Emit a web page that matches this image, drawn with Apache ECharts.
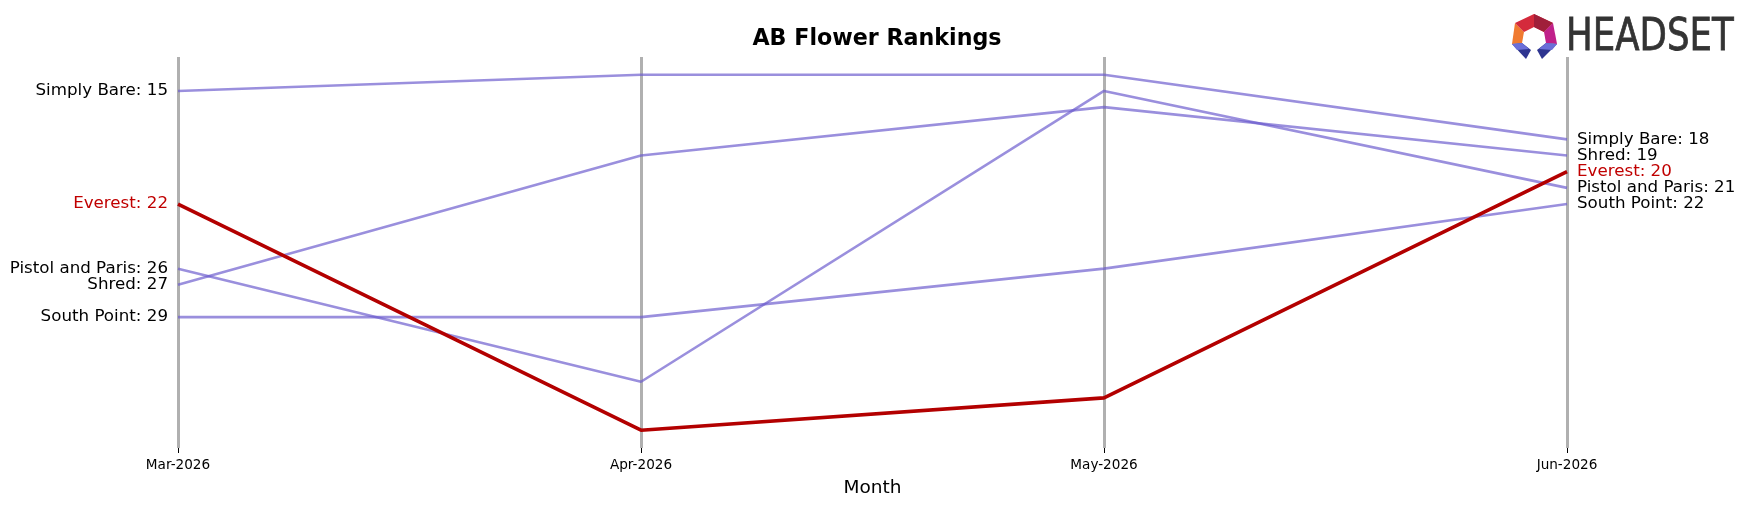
<!DOCTYPE html>
<html>
<head>
<meta charset="utf-8">
<script src="https://cdn.jsdelivr.net/npm/echarts@6/dist/echarts.min.js"></script>
<style>
html,body{margin:0;padding:0;background:#fff;}
#chart{width:1748px;height:507px;}
</style>
</head>
<body>
<div id="chart"></div>
<script>
const months = ['Mar-2026', 'Apr-2026', 'May-2026', 'Jun-2026'];
const simplyBare = [15, 14, 14, 18];
const shred = [27, 19, 16, 19];
const pistolAndParis = [26, 33, 15, 21];
const southPoint = [29, 29, 26, 22];
const everest = [22, 36, 34, 20];

const brands = [
  { name: 'Simply Bare', values: simplyBare, highlight: false },
  { name: 'Shred', values: shred, highlight: false },
  { name: 'Pistol and Paris', values: pistolAndParis, highlight: false },
  { name: 'South Point', values: southPoint, highlight: false },
  { name: 'Everest', values: everest, highlight: true }
];

const FONT = 'DejaVu Sans';
const PURPLE = 'rgba(106,90,205,0.68)';

function makeSeries(b) {
  const labelColor = b.highlight ? '#c00000' : '#000';
  const last = b.values.length - 1;
  return {
    name: b.name,
    type: 'line',
    symbol: 'circle',
    symbolSize: 0,
    showSymbol: true,
    z: b.highlight ? 5 : 2,
    lineStyle: { color: b.highlight ? '#b30000' : PURPLE, width: b.highlight ? 3.6 : 2.6 },
    itemStyle: { color: b.highlight ? '#b30000' : PURPLE },
    emphasis: { disabled: true },
    data: b.values.map((v, i) => {
      const item = { value: v };
      if (i === 0 || i === last) {
        item.label = {
          show: true,
          position: i === 0 ? 'left' : 'right',
          distance: 10,
          formatter: b.name + ': ' + v,
          color: labelColor,
          fontFamily: FONT,
          fontSize: 16.7
        };
      }
      return item;
    })
  };
}

const chart = echarts.init(document.getElementById('chart'), null, { renderer: 'canvas' });
chart.setOption({
  animation: false,
  backgroundColor: '#fff',
  title: {
    text: 'AB Flower Rankings',
    left: 872,
    textAlign: 'center',
    top: 23,
    textStyle: { fontFamily: FONT, fontSize: 22.2, fontWeight: 'bold', color: '#000' }
  },
  grid: { left: 178, right: 181, top: 57, bottom: 59 },
  xAxis: {
    type: 'category',
    data: months,
    boundaryGap: false,
    name: 'Month',
    nameLocation: 'middle',
    nameGap: 31,
    nameTextStyle: { fontFamily: FONT, fontSize: 18.5, color: '#000' },
    axisLine: { show: false },
    axisTick: { show: true, length: 5, lineStyle: { color: '#000', width: 1 } },
    axisLabel: { fontFamily: FONT, fontSize: 13.6, color: '#000', margin: 10 },
    splitLine: { show: true, lineStyle: { color: '#b0b0b0', width: 3 } }
  },
  yAxis: {
    type: 'value',
    inverse: true,
    min: 12.9,
    max: 37.1,
    show: false,
    splitLine: { show: false }
  },
  series: brands.map(makeSeries),
  graphic: [
    { type: 'polygon', shape: { points: [[1515,23],[1524,32],[1522,43],[1512,44]] }, style: { fill: '#f07a30' } },
    { type: 'polygon', shape: { points: [[1515,23],[1534,14],[1553,23],[1544,32],[1534,27],[1524,32]] }, style: { fill: '#d42a3c' } },
    { type: 'polygon', shape: { points: [[1534,14],[1553,23],[1544,32],[1534,27]] }, style: { fill: '#a01f3a' } },
    { type: 'polygon', shape: { points: [[1553,23],[1557,44],[1546,43],[1544,32]] }, style: { fill: '#c0208a' } },
    { type: 'polygon', shape: { points: [[1512,44],[1522,43],[1531,50],[1526,59]] }, style: { fill: '#2e3590' } },
    { type: 'polygon', shape: { points: [[1512,44],[1522,43],[1529,49],[1517,50]] }, style: { fill: '#6b6fd8' } },
    { type: 'polygon', shape: { points: [[1557,44],[1546,43],[1537,50],[1542,59]] }, style: { fill: '#2e3590' } },
    { type: 'polygon', shape: { points: [[1557,44],[1546,43],[1539,49],[1552,50]] }, style: { fill: '#6b6fd8' } },
    {
      type: 'text', x: 1566, y: 38.5, scaleX: 0.79, scaleY: 1,
      style: { text: 'HEADSET', x: 0, y: 0, align: 'left', verticalAlign: 'middle', fill: '#333', stroke: '#333', lineWidth: 0.8, font: 'normal 45px "DejaVu Sans"' }
    }
  ]
});
</script>
</body>
</html>
